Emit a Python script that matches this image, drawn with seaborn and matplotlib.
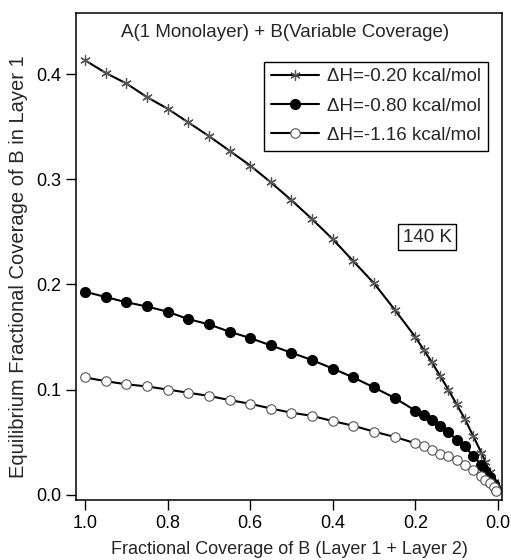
import matplotlib
matplotlib.use("Agg")
import matplotlib.pyplot as plt
import seaborn as sns
import pandas as pd

sns.set_style("ticks")
plt.rcParams['font.family'] = ['Liberation Sans', 'DejaVu Sans']

coverage = [1.0, 0.95, 0.9, 0.85, 0.8, 0.75, 0.7, 0.65, 0.6, 0.55, 0.5, 0.45, 0.4,
            0.35, 0.3, 0.25, 0.2, 0.18, 0.16, 0.14, 0.12, 0.10, 0.08, 0.06, 0.04,
            0.03, 0.02, 0.01, 0.005]
dh_020 = [0.413, 0.401, 0.391, 0.378, 0.367, 0.354, 0.341, 0.327, 0.313, 0.297, 0.280,
          0.262, 0.243, 0.222, 0.201, 0.176, 0.150, 0.138, 0.126, 0.113, 0.100, 0.086,
          0.072, 0.056, 0.040, 0.031, 0.022, 0.012, 0.006]
dh_080 = [0.193, 0.188, 0.183, 0.179, 0.174, 0.167, 0.162, 0.155, 0.149, 0.142, 0.135,
          0.128, 0.120, 0.1115, 0.102, 0.092, 0.080, 0.076, 0.071, 0.065, 0.060, 0.052,
          0.046, 0.037, 0.0285, 0.023, 0.0165, 0.010, 0.005]
dh_116 = [0.1115, 0.108, 0.105, 0.103, 0.100, 0.097, 0.094, 0.090, 0.0865, 0.082, 0.078,
          0.075, 0.070, 0.0656, 0.060, 0.055, 0.049, 0.046, 0.043, 0.039, 0.0365, 0.033,
          0.0285, 0.024, 0.018, 0.0145, 0.011, 0.007, 0.004]
labels = ["\u0394H=-0.20 kcal/mol", "\u0394H=-0.80 kcal/mol", "\u0394H=-1.16 kcal/mol"]

fig = plt.figure(figsize=(5.11, 5.60), dpi=100)
ax = fig.add_axes([0.1487, 0.1071, 0.8337, 0.8697])

styles = [
    dict(marker=(6, 2, 0), markersize=7.5, markeredgecolor="#555555", markerfacecolor="none", markeredgewidth=0.9),
    dict(marker="o", markersize=7.2, markeredgecolor="black", markerfacecolor="black", markeredgewidth=0.8),
    dict(marker="o", markersize=6.8, markeredgecolor="#555555", markerfacecolor="white", markeredgewidth=0.8),
]
for ys, lab, st in zip([dh_020, dh_080, dh_116], labels, styles):
    df = pd.DataFrame({"x": coverage, "y": ys})
    sns.lineplot(data=df, x="x", y="y", ax=ax, color="black", linewidth=1.5,
                 label=lab, sort=False, estimator=None, **st)

ax.set_xlim(1.022, -0.01)
ax.set_ylim(-0.005, 0.458)
ax.set_xticks([1.0, 0.8, 0.6, 0.4, 0.2, 0.0])
ax.set_xticklabels(["1.0", "0.8", "0.6", "0.4", "0.2", "0.0"])
ax.set_yticks([0.0, 0.1, 0.2, 0.3, 0.4])
ax.set_yticklabels(["0.0", "0.1", "0.2", "0.3", "0.4"])
ax.tick_params(direction="out", length=7, width=1.0, labelsize=13, colors="black")
for s in ax.spines.values():
    s.set_color("black")
    s.set_linewidth(1.1)

ax.set_xlabel("Fractional Coverage of B (Layer 1 + Layer 2)", fontsize=13, labelpad=7)
ax.set_ylabel("Equilibrium Fractional Coverage of B in Layer 1", fontsize=14.5)
ax.yaxis.set_label_coords(-0.112, 0.48)

ax.text(0.49, 0.959, "A(1 Monolayer) + B(Variable Coverage)", transform=ax.transAxes,
        ha="center", va="center", fontsize=13.5)
ax.text(0.824, 0.540, "140 K", transform=ax.transAxes, ha="center", va="center",
        fontsize=13.5, bbox=dict(boxstyle="square,pad=0.22", facecolor="white", edgecolor="black", linewidth=1.0))

leg = ax.legend(loc="upper right", bbox_to_anchor=(0.966, 0.900), borderaxespad=0,
                fontsize=13.5, handlelength=2.6, frameon=True, fancybox=False,
                edgecolor="black", framealpha=1, borderpad=0.35, labelspacing=0.65,
                handletextpad=0.4)
leg.get_frame().set_linewidth(1.0)

fig.savefig("out.png", dpi=100)
